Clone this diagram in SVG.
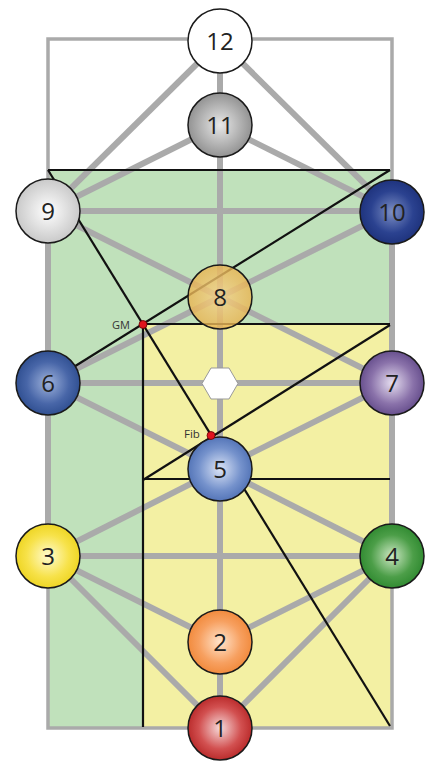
<svg xmlns="http://www.w3.org/2000/svg" width="427" height="761" viewBox="0 0 427 761">
<style>
.gl{stroke:#aaaaaa;stroke-width:6;fill:none;stroke-linecap:butt}
.bl{stroke:#111;stroke-width:2.2;fill:none}
.node circle{stroke:#1a1a1a;stroke-width:1.5}
.node text{font-family:"Open Sans","Liberation Sans",sans-serif;font-size:24px;fill:#222;text-anchor:middle}
.lbl{font-family:"Open Sans","Liberation Sans",sans-serif;fill:#333}
</style>
<defs>
<radialGradient id="gWhite" cx="50%" cy="50%" r="55%"><stop offset="0" stop-color="#ffffff"/><stop offset="1" stop-color="#ffffff"/></radialGradient>
<radialGradient id="gGray" cx="50%" cy="50%" r="55%"><stop offset="0" stop-color="#e8e8e8"/><stop offset="1" stop-color="#8a8a8a"/></radialGradient>
<radialGradient id="gLight" cx="50%" cy="50%" r="55%"><stop offset="0" stop-color="#ffffff"/><stop offset="1" stop-color="#c4c4c4"/></radialGradient>
<radialGradient id="gNavy" cx="50%" cy="50%" r="55%"><stop offset="0" stop-color="#7d8fc4"/><stop offset="0.6" stop-color="#2b4290"/><stop offset="1" stop-color="#1b2f78"/></radialGradient>
<radialGradient id="gOrange8" cx="50%" cy="50%" r="55%"><stop offset="0" stop-color="#f7d48c"/><stop offset="1" stop-color="#e8b04a"/></radialGradient>
<radialGradient id="gBlue6" cx="50%" cy="50%" r="55%"><stop offset="0" stop-color="#9fb3dc"/><stop offset="0.6" stop-color="#4866a8"/><stop offset="1" stop-color="#2a4a8c"/></radialGradient>
<radialGradient id="gPurple" cx="50%" cy="50%" r="55%"><stop offset="0" stop-color="#e6def0"/><stop offset="0.6" stop-color="#8a72aa"/><stop offset="1" stop-color="#5e4686"/></radialGradient>
<radialGradient id="gBlue5" cx="50%" cy="50%" r="55%"><stop offset="0" stop-color="#dbe4f6"/><stop offset="0.6" stop-color="#7592cc"/><stop offset="1" stop-color="#4b6db2"/></radialGradient>
<radialGradient id="gYellow" cx="50%" cy="50%" r="55%"><stop offset="0" stop-color="#fffbd0"/><stop offset="0.6" stop-color="#f7e24a"/><stop offset="1" stop-color="#ecd21a"/></radialGradient>
<radialGradient id="gGreen" cx="50%" cy="50%" r="55%"><stop offset="0" stop-color="#cde8c4"/><stop offset="0.6" stop-color="#4c9e48"/><stop offset="1" stop-color="#2a862c"/></radialGradient>
<radialGradient id="gOrange2" cx="50%" cy="50%" r="55%"><stop offset="0" stop-color="#ffe4cc"/><stop offset="0.6" stop-color="#f7a060"/><stop offset="1" stop-color="#f08534"/></radialGradient>
<radialGradient id="gRed" cx="50%" cy="50%" r="55%"><stop offset="0" stop-color="#f6dada"/><stop offset="0.6" stop-color="#d25050"/><stop offset="1" stop-color="#b42222"/></radialGradient>
</defs>

<g id="background">
<rect x="48" y="170" width="344" height="558" fill="#c0e1bb"/>
<rect x="143" y="324" width="249" height="404" fill="#f3f0a3"/>
<rect x="48" y="39" width="344" height="689" fill="none" stroke="#aaaaaa" stroke-width="3.5"/>
</g>

<g id="connectors">
<line class="gl" x1="48" y1="211" x2="48" y2="556"/>
<line class="gl" x1="392" y1="211" x2="392" y2="556"/>
<line class="gl" x1="220" y1="41" x2="220" y2="728"/>
<line class="gl" x1="220" y1="41" x2="48" y2="211"/>
<line class="gl" x1="220" y1="41" x2="392" y2="211"/>
<line class="gl" x1="220" y1="125" x2="48" y2="211"/>
<line class="gl" x1="220" y1="125" x2="392" y2="211"/>
<line class="gl" x1="48" y1="211" x2="392" y2="211"/>
<line class="gl" x1="48" y1="211" x2="220" y2="297"/>
<line class="gl" x1="392" y1="211" x2="220" y2="297"/>
<line class="gl" x1="220" y1="297" x2="48" y2="383"/>
<line class="gl" x1="220" y1="297" x2="392" y2="383"/>
<line class="gl" x1="48" y1="383" x2="392" y2="383"/>
<line class="gl" x1="48" y1="383" x2="220" y2="469"/>
<line class="gl" x1="392" y1="383" x2="220" y2="469"/>
<line class="gl" x1="220" y1="469" x2="48" y2="556"/>
<line class="gl" x1="220" y1="469" x2="392" y2="556"/>
<line class="gl" x1="48" y1="556" x2="392" y2="556"/>
<line class="gl" x1="48" y1="556" x2="220" y2="642"/>
<line class="gl" x1="392" y1="556" x2="220" y2="642"/>
<line class="gl" x1="48" y1="556" x2="220" y2="728"/>
<line class="gl" x1="392" y1="556" x2="220" y2="728"/>
</g>

<g id="construction">
<line class="bl" x1="48" y1="170" x2="390" y2="170"/>
<line class="bl" x1="143" y1="324" x2="390" y2="324"/>
<line class="bl" x1="143" y1="324" x2="143" y2="727"/>
<line class="bl" x1="143" y1="479" x2="390" y2="479"/>
<line class="bl" x1="390" y1="170" x2="48" y2="383"/>
<line class="bl" x1="48" y1="170" x2="390" y2="726"/>
<line class="bl" x1="390" y1="325" x2="143" y2="480"/>
</g>

<g id="n12" class="node"><circle cx="220" cy="41" r="32" fill="url(#gWhite)"/><text x="220" y="49.5">12</text></g>
<g id="n11" class="node"><circle cx="220" cy="125" r="32" fill="url(#gGray)"/><text x="220" y="133.5">11</text></g>
<g id="n9" class="node"><circle cx="48" cy="211" r="32" fill="url(#gLight)"/><text x="48" y="219.5">9</text></g>
<g id="n10" class="node"><circle cx="392" cy="212" r="32" fill="url(#gNavy)"/><text x="392" y="220.5">10</text></g>
<g id="n8" class="node"><circle cx="220" cy="297" r="32" fill="url(#gOrange8)" fill-opacity="0.8"/><text x="220" y="305.5">8</text></g>
<g id="n6" class="node"><circle cx="48" cy="383" r="32" fill="url(#gBlue6)"/><text x="48" y="391.5">6</text></g>
<g id="n7" class="node"><circle cx="392" cy="383" r="32" fill="url(#gPurple)"/><text x="392" y="391.5">7</text></g>
<g id="hex"><polygon points="202,383.5 211,368 229,368 238,383.5 229,399 211,399" fill="#ffffff" stroke="#999" stroke-width="1"/></g>
<g id="n5" class="node"><circle cx="220" cy="469" r="32" fill="url(#gBlue5)"/><text x="220" y="477.5">5</text></g>
<g id="n3" class="node"><circle cx="48" cy="556" r="32" fill="url(#gYellow)"/><text x="48" y="564.5">3</text></g>
<g id="n4" class="node"><circle cx="392" cy="556" r="32" fill="url(#gGreen)"/><text x="392" y="564.5">4</text></g>
<g id="n2" class="node"><circle cx="220" cy="642" r="32" fill="url(#gOrange2)"/><text x="220" y="650.5">2</text></g>
<g id="n1" class="node"><circle cx="220" cy="728" r="32" fill="url(#gRed)"/><text x="220" y="736.5">1</text></g>

<g id="gm">
<circle cx="143" cy="324.5" r="4" fill="#e0141e" stroke="#600" stroke-width="0.8"/>
<text class="lbl" x="112" y="328.5" font-size="11">GM</text>
</g>
<g id="fib">
<circle cx="211" cy="435.5" r="4" fill="#e0141e" stroke="#600" stroke-width="0.8"/>
<text class="lbl" x="184" y="437.5" font-size="11.5">Fib</text>
</g>
</svg>
